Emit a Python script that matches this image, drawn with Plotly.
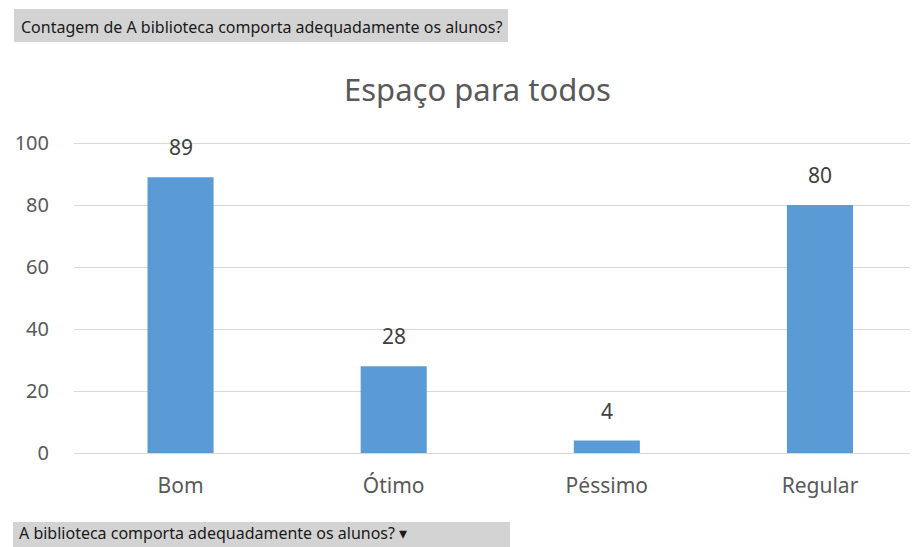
import plotly.graph_objects as go

categories = ["Bom", "Ótimo", "Péssimo", "Regular"]
counts = [89, 28, 4, 80]
y_ticks = [0, 20, 40, 60, 80, 100]
chart_title = "Espaço para todos"
top_label = "Contagem de A biblioteca comporta adequadamente os alunos?"
bottom_label = "A biblioteca comporta adequadamente os alunos? ▾"

OFF = 8  # browser body margin
W, H = 918 - OFF, 547 - OFF
# plot area in page pixels (y range 0..101 so the 100 gridline is drawn)
PL, PR, PT, PB = 74, 918, 140, 453
L, R, T, B = PL - OFF, PR - OFF, PT - OFF, PB - OFF


def px(x):
    return (x - PL) / (PR - PL)


def py(y):
    return (PB - y) / (PB - PT)


FONT = "Noto Sans"

fig = go.Figure(
    go.Bar(
        x=categories,
        y=counts,
        width=0.31,
        marker=dict(color="#5B9BD5", line=dict(width=0)),
        hoverinfo="x+y",
    )
)

annotations = [
    dict(x=c, y=v, xref="x", yref="y", text=str(v), showarrow=False,
         xanchor="center", yanchor="bottom", yshift=14,
         font=dict(family=FONT, size=21, color="#404040"))
    for c, v in zip(categories, counts)
]
annotations += [
    dict(text=chart_title, xref="paper", yref="paper",
         x=px(477), y=py(89), xanchor="center", yanchor="middle",
         showarrow=False,
         font=dict(family=FONT, size=31, color="#595959")),
    dict(text=top_label, xref="paper", yref="paper",
         x=px(19), y=py(27), xanchor="left", yanchor="middle",
         showarrow=False,
         font=dict(family=FONT, size=16, color="#1a1a1a")),
    dict(text=bottom_label, xref="paper", yref="paper",
         x=px(17), y=py(533), xanchor="left", yanchor="middle",
         showarrow=False,
         font=dict(family=FONT, size=16, color="#1a1a1a")),
]

fig.update_layout(
    width=W,
    height=H,
    margin=dict(l=L, r=W - R, t=T, b=H - B, pad=0),
    paper_bgcolor="white",
    plot_bgcolor="white",
    showlegend=False,
    xaxis=dict(
        range=[-0.5, 3.46],
        showgrid=False,
        showline=False,
        zeroline=False,
        ticks="",
        tickfont=dict(family=FONT, size=21, color="#595959"),
        ticklabelstandoff=18,
    ),
    yaxis=dict(
        range=[0, 101],
        tickvals=y_ticks,
        showgrid=True,
        gridcolor="#D9D9D9",
        gridwidth=1,
        zeroline=True,
        zerolinecolor="#D9D9D9",
        zerolinewidth=1,
        showline=False,
        ticks="",
        tickfont=dict(family=FONT, size=20, color="#595959"),
        ticklabelstandoff=24,
    ),
    shapes=[
        dict(type="rect", xref="paper", yref="paper",
             x0=px(14), x1=px(508), y0=py(42), y1=py(9),
             fillcolor="#D3D3D3", line=dict(width=0), layer="below"),
        dict(type="rect", xref="paper", yref="paper",
             x0=px(13), x1=px(510), y0=py(547), y1=py(522),
             fillcolor="#D3D3D3", line=dict(width=0), layer="below"),
    ],
    annotations=annotations,
)

fig.write_html("out.html")
